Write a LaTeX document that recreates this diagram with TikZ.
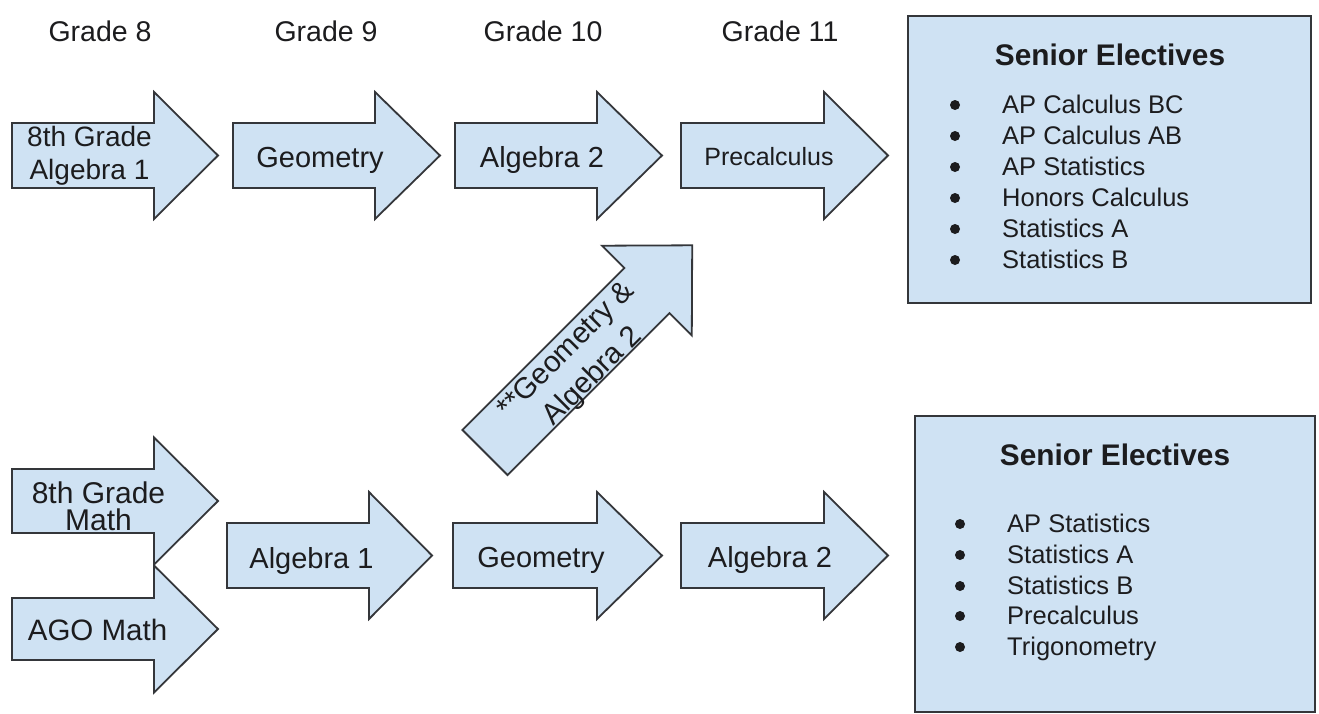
\documentclass[tikz,border=0pt]{standalone}
\usepackage{fontspec}
\setmainfont{Liberation Sans}
\definecolor{fillc}{RGB}{207,226,243}
\definecolor{linec}{RGB}{52,54,58}
\definecolor{txtc}{RGB}{28,28,30}
\newcommand{\flowarrow}[5]{% left, base, tip, yc, shaft half
  \draw[arrowbody] ({#1},{#4-#5}) -- ({#2},{#4-#5}) -- ({#2},{#4-63.5}) -- ({#3},{#4}) -- ({#2},{#4+63.5}) -- ({#2},{#4+#5}) -- ({#1},{#4+#5}) -- cycle;}
\tikzset{
  arrowbody/.style={draw=linec, fill=fillc, line width=1.8pt, line join=miter},
  ebox/.style={draw=linec, fill=fillc, line width=1.8pt, inner sep=0pt},
  lbl/.style={font=\fontsize{29}{33}\selectfont, text=txtc, align=center, inner sep=0pt},
  grade/.style={font=\fontsize{28.5}{33}\selectfont, text=txtc, inner sep=0pt, anchor=base},
  etitle/.style={font=\bfseries\fontsize{29.8}{34}\selectfont, text=txtc, inner sep=0pt, anchor=base},
  eitem/.style={font=\fontsize{25.5}{30}\selectfont, text=txtc, inner sep=0pt, anchor=base west},
  bul/.style={fill=txtc, draw=none}
}
\begin{document}
\begin{tikzpicture}[x=1pt,y=-1pt]
\useasboundingbox (0,0) rectangle (1319,713);
\fill[white] (0,0) rectangle (1319,713);

% grade labels
\node[grade] (g8) at (100,41) {Grade 8};
\node[grade] (g9) at (326,41) {Grade 9};
\node[grade] (g10) at (543,41) {Grade 10};
\node[grade] (g11) at (780,41) {Grade 11};

% top row arrows
\flowarrow{12}{154}{218}{155.5}{32.5}
\flowarrow{233}{375}{440}{155.5}{32.5}
\flowarrow{455}{597}{662}{155.5}{32.5}
\flowarrow{681}{824}{888}{155.5}{32.5}
\node[lbl, font=\fontsize{28}{33}\selectfont] (a8) at (89.5,156) {8th Grade\\Algebra 1};
\node[lbl, anchor=base] (geo9) at (320,167) {Geometry};
\node[lbl, anchor=base] (alg10) at (542,167) {Algebra 2};
\node[lbl, anchor=base, font=\fontsize{25}{30}\selectfont] (pre11) at (769,165) {Precalculus};

% bottom row arrows
\flowarrow{12}{154}{218}{501}{32}
\flowarrow{12}{154}{218}{629}{31}
\flowarrow{227}{369}{432}{555.5}{32.5}
\flowarrow{453}{597}{662}{555.5}{32.5}
\flowarrow{681}{824}{888}{555.5}{32.5}
\node[lbl, font=\fontsize{30}{27}\selectfont] (m8) at (98.5,506) {8th Grade\\Math};
\node[lbl, anchor=base, font=\fontsize{29.5}{33}\selectfont] (ago) at (97.5,640) {AGO Math};
\node[lbl, anchor=base] (alg9) at (311.5,568) {Algebra 1};
\node[lbl, anchor=base] (geo10) at (541,567) {Geometry};
\node[lbl, anchor=base] (alg11) at (770,567) {Algebra 2};

% diagonal arrow
\draw[arrowbody] (462.4,429.9) -- (624.3,268.0) -- (602.0,245.7) -- (692.2,245.3)
  -- (691.8,335.5) -- (669.5,313.2) -- (507.6,475.1) -- cycle;
\node[lbl, rotate=45, font=\fontsize{29.5}{37}\selectfont] (ga) at (580,364) {**Geometry \&\\Algebra 2};

% elective boxes
\node[ebox, minimum width=403pt, minimum height=287pt] (box1) at (1109.5,159.5) {};
\node[etitle] (t1) at (1110,65) {Senior Electives};
\foreach \y/\t [count=\i] in {113/AP Calculus BC,144/AP Calculus AB,175/AP Statistics,206/Honors Calculus,237/Statistics A,268/Statistics B}{
  \fill[bul] (955,\y-8) circle (5pt);
  \node[eitem] (e1\i) at (1002,\y) {\t};
}
\node[ebox, minimum width=400pt, minimum height=296pt] (box2) at (1115,564) {};
\node[etitle] (t2) at (1115,465) {Senior Electives};
\foreach \y/\t [count=\i] in {532/AP Statistics,563/Statistics A,594/Statistics B,624/Precalculus,655/Trigonometry}{
  \fill[bul] (960,\y-8) circle (5pt);
  \node[eitem] (e2\i) at (1007,\y) {\t};
}
\end{tikzpicture}
\end{document}
